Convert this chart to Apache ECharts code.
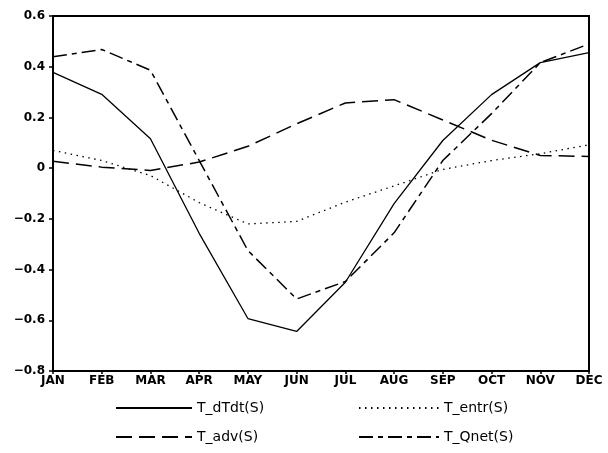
<!DOCTYPE html>
<html>
<head>
<meta charset="utf-8">
<script src="https://cdn.jsdelivr.net/npm/echarts@6/dist/echarts.min.js"></script>
<style>
  html, body { margin: 0; padding: 0; background: #fff; }
  #chart { width: 608px; height: 453px; }
</style>
</head>
<body>
<div id="chart"></div>
<script>
// months on the x axis
var months = ['JAN', 'FEB', 'MAR', 'APR', 'MAY', 'JUN', 'JUL', 'AUG', 'SEP', 'OCT', 'NOV', 'DEC'];

// values
var dTdt = [0.378, 0.291, 0.116, -0.257, -0.593, -0.644, -0.45, -0.14, 0.109, 0.29, 0.416, 0.456];
var entr = [0.07, 0.03, -0.029, -0.136, -0.22, -0.21, -0.134, -0.07, -0.005, 0.03, 0.057, 0.092];
var adv  = [0.027, 0.004, -0.009, 0.024, 0.086, 0.175, 0.257, 0.27, 0.19, 0.11, 0.05, 0.046];
var qnet = [0.439, 0.468, 0.386, 0.03, -0.325, -0.516, -0.447, -0.255, 0.03, 0.215, 0.416, 0.49];

var chart = echarts.init(document.getElementById('chart'));

function fmtY(v) {
    if (Math.abs(v) < 1e-9) return '0';
    var s = Math.abs(v).toFixed(1);
    return v < 0 ? '\u2212' + s : s;
}

function line(name, data, type, w) {
    return {
        name: name,
        type: 'line',
        data: data,
        symbol: 'none',
        lineStyle: { color: '#000', width: w, type: type },
        itemStyle: { color: '#000' },
        animation: false
    };
}

var legendText = { fontFamily: 'DejaVu Sans', fontSize: 14, color: '#000' };

var option = {
    backgroundColor: '#fff',
    animation: false,
    grid: {
        left: 53, right: 19, top: 16, bottom: 82,
        show: true, borderColor: '#000', borderWidth: 2
    },
    legend: [
        {
            data: ['T_dTdt(S)', 'T_adv(S)'],
            orient: 'vertical', left: 115, top: 401, padding: 0,
            itemWidth: 76, itemHeight: 14, itemGap: 15,
            itemStyle: { opacity: 0 },
            textStyle: legendText
        },
        {
            data: ['T_entr(S)', 'T_Qnet(S)'],
            orient: 'vertical', left: 358, top: 401, padding: 0,
            itemWidth: 80, itemHeight: 14, itemGap: 15,
            itemStyle: { opacity: 0 },
            textStyle: legendText
        }
    ],
    xAxis: {
        type: 'category',
        data: months,
        boundaryGap: false,
        axisLine: { onZero: false, lineStyle: { color: '#000', width: 2 } },
        axisTick: { show: true, length: 3, lineStyle: { color: '#000', width: 1.5 } },
        axisLabel: {
            color: '#000', fontFamily: 'DejaVu Sans', fontWeight: 'bold',
            fontSize: 12, margin: 4, interval: 0
        },
        splitLine: { show: false }
    },
    yAxis: {
        type: 'value',
        min: -0.8, max: 0.6, interval: 0.2,
        axisLine: { show: true, lineStyle: { color: '#000', width: 2 } },
        axisTick: { show: true, length: 4, lineStyle: { color: '#000', width: 1.5 } },
        axisLabel: {
            color: '#000', fontFamily: 'DejaVu Sans', fontWeight: 'bold',
            fontSize: 12, margin: 8, formatter: fmtY
        },
        splitLine: { show: false }
    },
    series: [
        line('T_dTdt(S)', dTdt, 'solid', 1.3),
        line('T_entr(S)', entr, [1.5, 4.5], 1.3),
        line('T_adv(S)', adv, [16, 7], 1.5),
        line('T_Qnet(S)', qnet, [14, 5, 5, 5], 1.5)
    ]
};

chart.setOption(option);
</script>
</body>
</html>
